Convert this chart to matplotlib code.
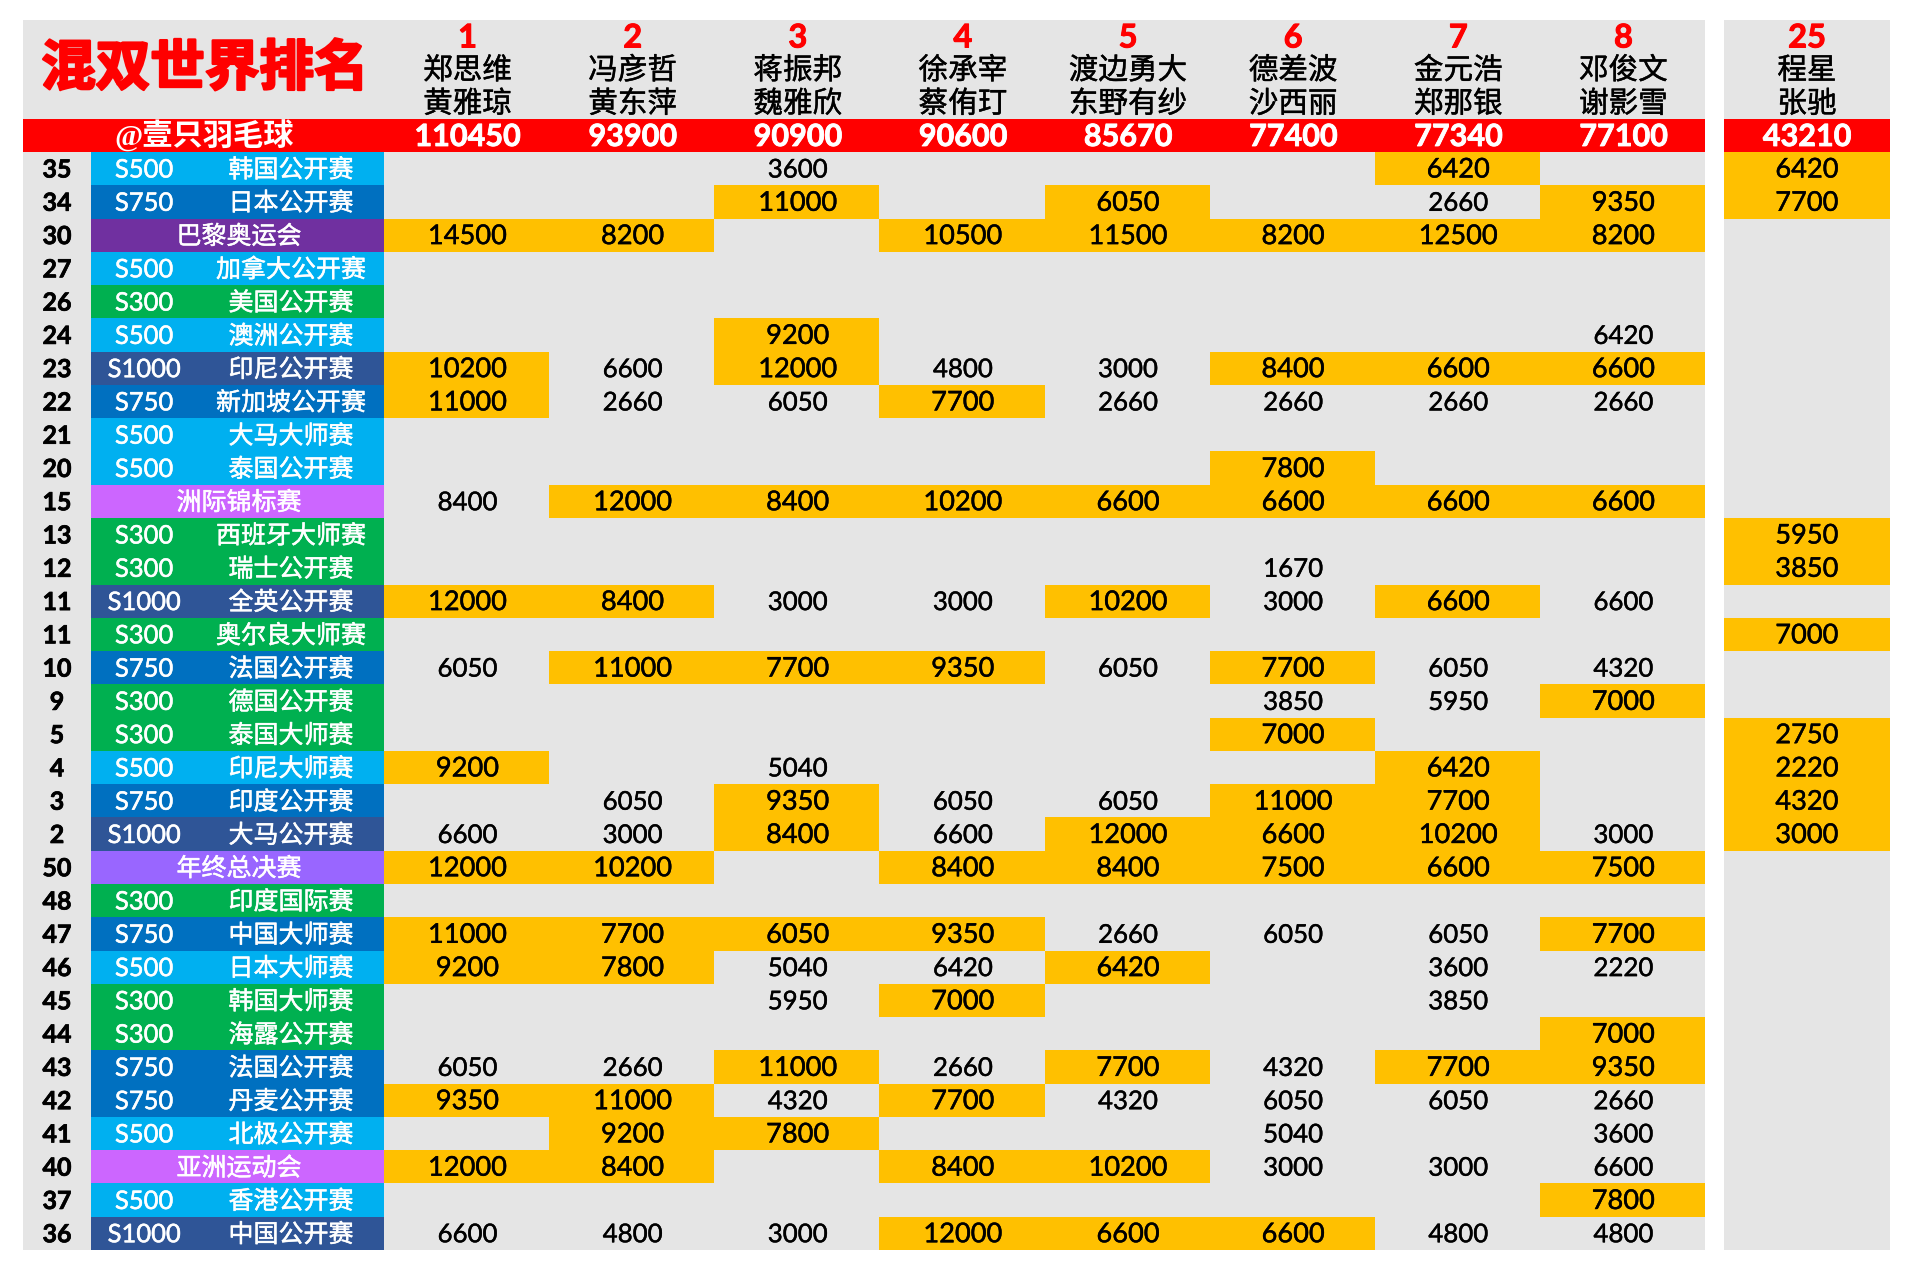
import matplotlib
matplotlib.use("Agg")
import matplotlib.pyplot as plt
import matplotlib.patheffects as pe

TITLE = "混双世界排名"
HANDLE = "@壹只羽毛球"
PLAYER_RANKS = [1, 2, 3, 4, 5, 6, 7, 8, 25]
PLAYER_A = ["郑思维", "冯彦哲", "蒋振邦", "徐承宰", "渡边勇大", "德差波", "金元浩", "邓俊文", "程星"]
PLAYER_B = ["黄雅琼", "黄东萍", "魏雅欣", "蔡侑玎", "东野有纱", "沙西丽", "郑那银", "谢影雪", "张驰"]
TOTALS = [110450, 93900, 90900, 90600, 85670, 77400, 77340, 77100, 43210]

WEEKS = [35, 34, 30, 27, 26, 24, 23, 22, 21, 20, 15, 13, 12, 11, 11, 10, 9, 5, 4, 3, 2, 50, 48, 47, 46, 45, 44, 43, 42, 41, 40, 37, 36]
TIERS = ["S500", "S750", "OG", "S500", "S300", "S500", "S1000", "S750", "S500", "S500", "WC",
         "S300", "S300", "S1000", "S300", "S750", "S300", "S300", "S500", "S750", "S1000", "WTF",
         "S300", "S750", "S500", "S300", "S300", "S750", "S750", "S500", "WC", "S500", "S1000"]
EVENTS = ["韩国公开赛", "日本公开赛", "巴黎奥运会", "加拿大公开赛", "美国公开赛", "澳洲公开赛", "印尼公开赛", "新加坡公开赛",
          "大马大师赛", "泰国公开赛", "洲际锦标赛", "西班牙大师赛", "瑞士公开赛", "全英公开赛", "奥尔良大师赛", "法国公开赛",
          "德国公开赛", "泰国大师赛", "印尼大师赛", "印度公开赛", "大马公开赛", "年终总决赛", "印度国际赛", "中国大师赛",
          "日本大师赛", "韩国大师赛", "海露公开赛", "法国公开赛", "丹麦公开赛", "北极公开赛", "亚洲运动会", "香港公开赛", "中国公开赛"]
_ = None
POINTS = [
    [_, _, 3600, _, _, _, 6420, _, 6420],
    [_, _, 11000, _, 6050, _, 2660, 9350, 7700],
    [14500, 8200, _, 10500, 11500, 8200, 12500, 8200, _],
    [_, _, _, _, _, _, _, _, _],
    [_, _, _, _, _, _, _, _, _],
    [_, _, 9200, _, _, _, _, 6420, _],
    [10200, 6600, 12000, 4800, 3000, 8400, 6600, 6600, _],
    [11000, 2660, 6050, 7700, 2660, 2660, 2660, 2660, _],
    [_, _, _, _, _, _, _, _, _],
    [_, _, _, _, _, 7800, _, _, _],
    [8400, 12000, 8400, 10200, 6600, 6600, 6600, 6600, _],
    [_, _, _, _, _, _, _, _, 5950],
    [_, _, _, _, _, 1670, _, _, 3850],
    [12000, 8400, 3000, 3000, 10200, 3000, 6600, 6600, _],
    [_, _, _, _, _, _, _, _, 7000],
    [6050, 11000, 7700, 9350, 6050, 7700, 6050, 4320, _],
    [_, _, _, _, _, 3850, 5950, 7000, _],
    [_, _, _, _, _, 7000, _, _, 2750],
    [9200, _, 5040, _, _, _, 6420, _, 2220],
    [_, 6050, 9350, 6050, 6050, 11000, 7700, _, 4320],
    [6600, 3000, 8400, 6600, 12000, 6600, 10200, 3000, 3000],
    [12000, 10200, _, 8400, 8400, 7500, 6600, 7500, _],
    [_, _, _, _, _, _, _, _, _],
    [11000, 7700, 6050, 9350, 2660, 6050, 6050, 7700, _],
    [9200, 7800, 5040, 6420, 6420, _, 3600, 2220, _],
    [_, _, 5950, 7000, _, _, 3850, _, _],
    [_, _, _, _, _, _, _, 7000, _],
    [6050, 2660, 11000, 2660, 7700, 4320, 7700, 9350, _],
    [9350, 11000, 4320, 7700, 4320, 6050, 6050, 2660, _],
    [_, 9200, 7800, _, _, 5040, _, 3600, _],
    [12000, 8400, _, 8400, 10200, 3000, 3000, 6600, _],
    [_, _, _, _, _, _, _, 7800, _],
    [6600, 4800, 3000, 12000, 6600, 6600, 4800, 4800, _],
]
# Which columns count towards each pair's ranking (orange cells), row by row
COUNTED = [
    [6, 8], [2, 4, 7, 8], [0, 1, 3, 4, 5, 6, 7], [], [], [2], [0, 2, 5, 6, 7], [0, 3], [], [5],
    [1, 2, 3, 4, 5, 6, 7], [8], [8], [0, 1, 4, 6], [8], [1, 2, 3, 5], [7], [5, 8], [0, 6, 8],
    [2, 5, 6, 8], [2, 4, 5, 6, 8], [0, 1, 3, 4, 5, 6, 7], [], [0, 1, 2, 3, 7], [0, 1, 4], [3], [7],
    [2, 4, 6, 7], [0, 1, 3], [1, 2], [0, 1, 3, 4], [7], [3, 4, 5],
]
TIER_COLORS = {"S300": "#00B050", "S500": "#00B0F0", "S750": "#0070C0", "S1000": "#2F5597",
               "OG": "#7030A0", "WC": "#CC66FF", "WTF": "#9966FF"}

GREY, RED, ORANGE = "#E5E5E5", "#FF0000", "#FFC000"
CJK = ["Noto Sans CJK SC", "DejaVu Sans"]
NUM = ["Lato", "DejaVu Sans"]

W, H = 1918, 1277
fig = plt.figure(figsize=(W / 100, H / 100), dpi=100, facecolor="white")
ax = fig.add_axes([0, 0, 1, 1])
BAND_TOP, ROW_H = 152.0, (1250.0 - 152.0) / len(WEEKS)
ax.set_xlim(0, W)
ax.set_ylim((H - BAND_TOP) / ROW_H, -BAND_TOP / ROW_H)
ax.axis("off")

def py(px):
    return (px - BAND_TOP) / ROW_H

LEFT, EV_L, EV_R, MAIN_R, SIDE_L, SIDE_R = 23, 91, 384, 1705, 1724, 1890
COL_W = (MAIN_R - EV_R) / 8
centers = [EV_R + COL_W * (i + .5) + 1 for i in range(8)] + [(SIDE_L + SIDE_R) / 2]
lefts = [EV_R + COL_W * i for i in range(8)] + [SIDE_L]
widths = [COL_W] * 8 + [SIDE_R - SIDE_L]
TEXT_DY = 1.4 / ROW_H
thin_w = [pe.withStroke(linewidth=0.35, foreground="white")]
thin_k = [pe.withStroke(linewidth=0.3, foreground="black")]

for x0, x1 in [(LEFT, MAIN_R), (SIDE_L, SIDE_R)]:
    ax.barh(py(20), x1 - x0, left=x0, height=py(1250) - py(20), align="edge", color=GREY, lw=0)
    ax.barh(py(119), x1 - x0, left=x0, height=py(152) - py(119), align="edge", color=RED, lw=0)

ax.text(205, py(69.5), TITLE, family=CJK, weight="bold", size=39.3, color=RED, ha="center", va="center",
        path_effects=[pe.withStroke(linewidth=1.8, foreground=RED)])
ax.text(204, py(135.5), HANDLE, family=["Liberation Serif", "Noto Sans CJK SC"], weight="bold", size=21.8,
        color="white", ha="center", va="center")
for c, r, a, b, t in zip(centers, PLAYER_RANKS, PLAYER_A, PLAYER_B, TOTALS):
    ax.text(c, py(38), str(r), family=NUM, weight="bold", size=23.5, color=RED, ha="center", va="center",
            path_effects=[pe.withStroke(linewidth=0.7, foreground=RED)])
    ax.text(c, py(70.5), a, family=CJK, weight="medium", size=21.3, color="black", ha="center", va="center", path_effects=thin_k)
    ax.text(c, py(104), b, family=CJK, weight="medium", size=21.3, color="black", ha="center", va="center", path_effects=thin_k)
    ax.text(c, py(137), str(t), family=NUM, weight="bold", size=22, color="white", ha="center", va="center",
            path_effects=[pe.withStroke(linewidth=0.6, foreground="white")])

for i, (wk, tier, ev, vals, counted) in enumerate(zip(WEEKS, TIERS, EVENTS, POINTS, COUNTED)):
    yc = i + .5 + TEXT_DY
    ax.text(57, yc, str(wk), family=NUM, weight="bold", size=18, color="black", ha="center", va="center",
            path_effects=[pe.withStroke(linewidth=0.5, foreground="black")])
    ax.barh(i, EV_R - EV_L, left=EV_L, height=1, align="edge", color=TIER_COLORS[tier], lw=0)
    if tier.startswith("S"):
        ax.text(144, yc, tier, family=NUM, size=18.4, color="white", ha="center", va="center", path_effects=thin_w)
        ax.text(291, yc + 0.01, ev, family=CJK, weight="medium", size=18, color="white", ha="center", va="center", path_effects=thin_w)
    else:
        ax.text(239, yc + 0.01, ev, family=CJK, weight="medium", size=18, color="white", ha="center", va="center", path_effects=thin_w)
    for j, v in enumerate(vals):
        on = j in counted
        if on:
            ax.barh(i, widths[j], left=lefts[j], height=1, align="edge", color=ORANGE, lw=0)
        if v is not None:
            ax.text(centers[j], yc, str(v), family=NUM, size=19.6 if on else 18.6, color="black", ha="center", va="center",
                    path_effects=thin_k)

fig.savefig("out.png", dpi=100, facecolor="white")
